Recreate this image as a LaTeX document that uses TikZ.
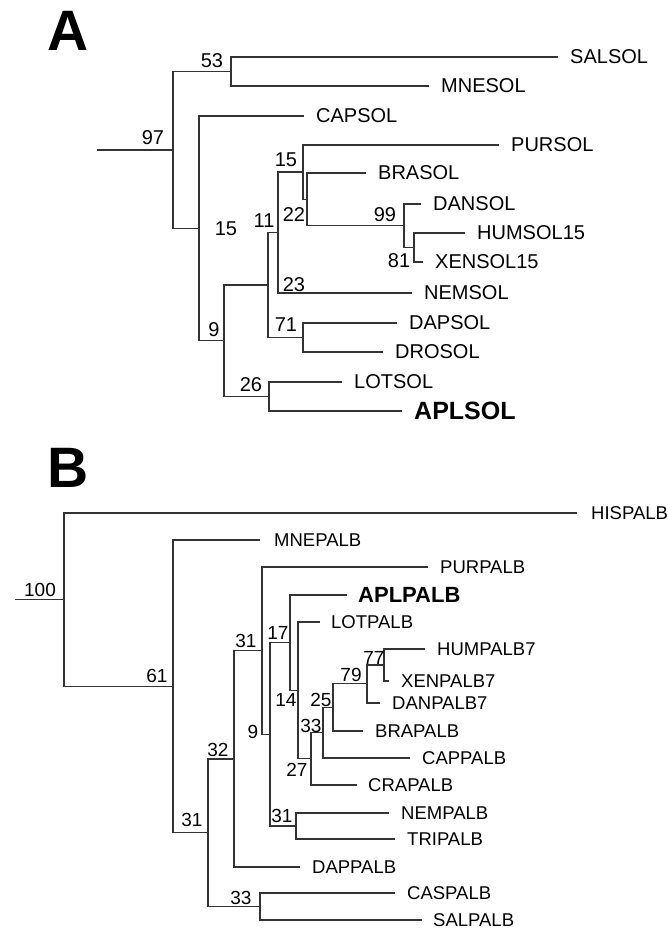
\documentclass[tikz,border=0pt]{standalone}
\usepackage{fontspec}
\setmainfont{Liberation Sans}
\usetikzlibrary{positioning}

\begin{document}
\begin{tikzpicture}[x=1pt, y=-1pt,
  br/.style={draw=black!80, line width=1.3pt},
  tipA/.style={font=\fontsize{20}{24}\selectfont, inner sep=0pt},
  tipB/.style={font=\fontsize{18.5}{22}\selectfont, inner sep=0pt},
  bsA/.style={font=\fontsize{20}{24}\selectfont, inner sep=0pt},
  bsB/.style={font=\fontsize{19}{23}\selectfont, inner sep=0pt},
  panel/.style={font=\fontsize{57}{60}\selectfont\bfseries, inner sep=0pt},
]
  \useasboundingbox (0,0) rectangle (668,930);

  \node[panel] (panelA) at (68.5,31) {A};
  \node[panel] (panelB) at (68,467.5) {B};

  % tree A
  \coordinate (a0) at (97,150);
  \coordinate (nA97) at (173,150);
  \coordinate (nA53) at (231,71.5);
  \coordinate (nA15c) at (199,228.4);
  \coordinate (nA9) at (224,340.8);
  \coordinate (nA11) at (268,285);
  \coordinate (nA23) at (278,232.6);
  \coordinate (nA15) at (303,172.1);
  \coordinate (nA22) at (307,199.3);
  \coordinate (nA99) at (404,225.5);
  \coordinate (nA81) at (414,247.5);
  \coordinate (nA71) at (303,337.5);
  \coordinate (nA26) at (269,396.5);

  \coordinate (tSALSOL) at (558,57);
  \coordinate (tMNESOL) at (429,86);
  \coordinate (tCAPSOL) at (304,116);
  \coordinate (tPURSOL) at (499,145);
  \coordinate (tBRASOL) at (366,173);
  \coordinate (tDANSOL) at (421,204);
  \coordinate (tHUMSOL) at (465,233);
  \coordinate (tXENSOL) at (423,262);
  \coordinate (tNEMSOL) at (412,293);
  \coordinate (tDAPSOL) at (397,323);
  \coordinate (tDROSOL) at (383,352);
  \coordinate (tLOTSOL) at (342,382);
  \coordinate (tAPLSOL) at (402,411);

  \node[tipA, right=12pt of tSALSOL] (SALSOL) {SALSOL};
  \node[tipA, right=12pt of tMNESOL] (MNESOL) {MNESOL};
  \node[tipA, right=12pt of tCAPSOL] (CAPSOL) {CAPSOL};
  \node[tipA, right=12pt of tPURSOL] (PURSOL) {PURSOL};
  \node[tipA, right=12pt of tBRASOL] (BRASOL) {BRASOL};
  \node[tipA, right=12pt of tDANSOL] (DANSOL) {DANSOL};
  \node[tipA, right=12pt of tHUMSOL] (HUMSOL) {HUMSOL15};
  \node[tipA, right=12pt of tXENSOL] (XENSOL) {XENSOL15};
  \node[tipA, right=12pt of tNEMSOL] (NEMSOL) {NEMSOL};
  \node[tipA, right=12pt of tDAPSOL] (DAPSOL) {DAPSOL};
  \node[tipA, right=12pt of tDROSOL] (DROSOL) {DROSOL};
  \node[tipA, right=12pt of tLOTSOL] (LOTSOL) {LOTSOL};
  \node[tipA, right=12pt of tAPLSOL, font=\fontsize{25}{30}\selectfont\bfseries] (APLSOL) {APLSOL};

  \draw[br] (a0) -- (nA97);
  \foreach \p/\c in {nA97/nA53, nA97/nA15c, nA53/tSALSOL, nA53/tMNESOL,
      nA15c/tCAPSOL, nA15c/nA9, nA9/nA11, nA9/nA26, nA11/nA23, nA11/nA71,
      nA23/nA15, nA23/tNEMSOL, nA15/tPURSOL, nA15/nA22, nA22/tBRASOL, nA22/nA99,
      nA99/tDANSOL, nA99/nA81, nA81/tHUMSOL, nA81/tXENSOL,
      nA71/tDAPSOL, nA71/tDROSOL, nA26/tLOTSOL, nA26/tAPLSOL}
    \draw[br] (\p) |- (\c);

  \node[bsA] (bA97) at (153,138) {97};
  \node[bsA] (bA53) at (212,61) {53};
  \node[bsA] (bA15c) at (226,229) {15};
  \node[bsA] (bA15) at (286,160) {15};
  \node[bsA] (bA11) at (264,221) {11};
  \node[bsA] (bA22) at (294,215) {22};
  \node[bsA] (bA99) at (385,215) {99};
  \node[bsA] (bA81) at (399,261) {81};
  \node[bsA] (bA23) at (294,285) {23};
  \node[bsA] (bA9) at (214,330) {9};
  \node[bsA] (bA71) at (286,325) {71};
  \node[bsA] (bA26) at (251,385) {26};

  % tree B
  \coordinate (b0) at (15,599.7);
  \coordinate (nB100) at (64,599.7);
  \coordinate (nB61) at (173,686.4);
  \coordinate (nB31c) at (208,832.7);
  \coordinate (nB32) at (234,758.9);
  \coordinate (nB33c) at (260,906.5);
  \coordinate (nB31a) at (262,650.7);
  \coordinate (nB9) at (270,734.4);
  \coordinate (nB17) at (290,642.7);
  \coordinate (nB14) at (298,690.4);
  \coordinate (nB27) at (311,758.8);
  \coordinate (nB33) at (323,732.6);
  \coordinate (nB25) at (333,707.3);
  \coordinate (nB79) at (367,683.5);
  \coordinate (nB77) at (384,665);
  \coordinate (nB31n) at (296,826);

  \coordinate (tHISPALB) at (577,513);
  \coordinate (tMNEPALB) at (260,540);
  \coordinate (tPURPALB) at (428,567);
  \coordinate (tAPLPALB) at (347,595);
  \coordinate (tLOTPALB) at (320,622);
  \coordinate (tHUMPALB) at (425,649);
  \coordinate (tXENPALB) at (389,681);
  \coordinate (tDANPALB) at (380,703);
  \coordinate (tBRAPALB) at (363,731);
  \coordinate (tCAPPALB) at (410,758);
  \coordinate (tCRAPALB) at (357,785);
  \coordinate (tNEMPALB) at (389,813);
  \coordinate (tTRIPALB) at (395,839);
  \coordinate (tDAPPALB) at (300,867);
  \coordinate (tCASPALB) at (395,893);
  \coordinate (tSALPALB) at (422,920);

  \node[tipB, right=14pt of tHISPALB] (HISPALB) {HISPALB};
  \node[tipB, right=14pt of tMNEPALB] (MNEPALB) {MNEPALB};
  \node[tipB, right=12pt of tPURPALB] (PURPALB) {PURPALB};
  \node[tipB, right=11pt of tAPLPALB, font=\fontsize{22}{26}\selectfont\bfseries] (APLPALB) {APLPALB};
  \node[tipB, right=11pt of tLOTPALB] (LOTPALB) {LOTPALB};
  \node[tipB, right=12pt of tHUMPALB] (HUMPALB) {HUMPALB7};
  \node[tipB, right=12pt of tXENPALB] (XENPALB) {XENPALB7};
  \node[tipB, right=12pt of tDANPALB] (DANPALB) {DANPALB7};
  \node[tipB, right=12pt of tBRAPALB] (BRAPALB) {BRAPALB};
  \node[tipB, right=12pt of tCAPPALB] (CAPPALB) {CAPPALB};
  \node[tipB, right=11pt of tCRAPALB] (CRAPALB) {CRAPALB};
  \node[tipB, right=12pt of tNEMPALB] (NEMPALB) {NEMPALB};
  \node[tipB, right=12pt of tTRIPALB] (TRIPALB) {TRIPALB};
  \node[tipB, right=12pt of tDAPPALB] (DAPPALB) {DAPPALB};
  \node[tipB, right=12pt of tCASPALB] (CASPALB) {CASPALB};
  \node[tipB, right=11pt of tSALPALB] (SALPALB) {SALPALB};

  \draw[br] (b0) -- (nB100);
  \foreach \p/\c in {nB100/tHISPALB, nB100/nB61, nB61/tMNEPALB, nB61/nB31c,
      nB31c/nB32, nB31c/nB33c, nB33c/tCASPALB, nB33c/tSALPALB,
      nB32/nB31a, nB32/tDAPPALB, nB31a/tPURPALB, nB31a/nB9,
      nB9/nB17, nB9/nB31n, nB31n/tNEMPALB, nB31n/tTRIPALB,
      nB17/tAPLPALB, nB17/nB14, nB14/tLOTPALB, nB14/nB27,
      nB27/nB33, nB27/tCRAPALB, nB33/nB25, nB33/tCAPPALB,
      nB25/nB79, nB25/tBRAPALB, nB79/nB77, nB79/tDANPALB,
      nB77/tHUMPALB, nB77/tXENPALB}
    \draw[br] (\p) |- (\c);

  \node[bsB] (bB100) at (40,590) {100};
  \node[bsB] (bB61) at (157,676) {61};
  \node[bsB] (bB31a) at (246,641) {31};
  \node[bsB] (bB17) at (278,633) {17};
  \node[bsB] (bB32) at (218,750) {32};
  \node[bsB] (bB9) at (253,732) {9};
  \node[bsB] (bB14) at (286,700) {14};
  \node[bsB] (bB25) at (321,700) {25};
  \node[bsB] (bB79) at (351,675) {79};
  \node[bsB] (bB77) at (374,658) {77};
  \node[bsB] (bB33) at (311,726) {33};
  \node[bsB] (bB27) at (297,770) {27};
  \node[bsB] (bB31n) at (282,816) {31};
  \node[bsB] (bB31c) at (192,820) {31};
  \node[bsB] (bB33c) at (241,898) {33};
\end{tikzpicture}
\end{document}
